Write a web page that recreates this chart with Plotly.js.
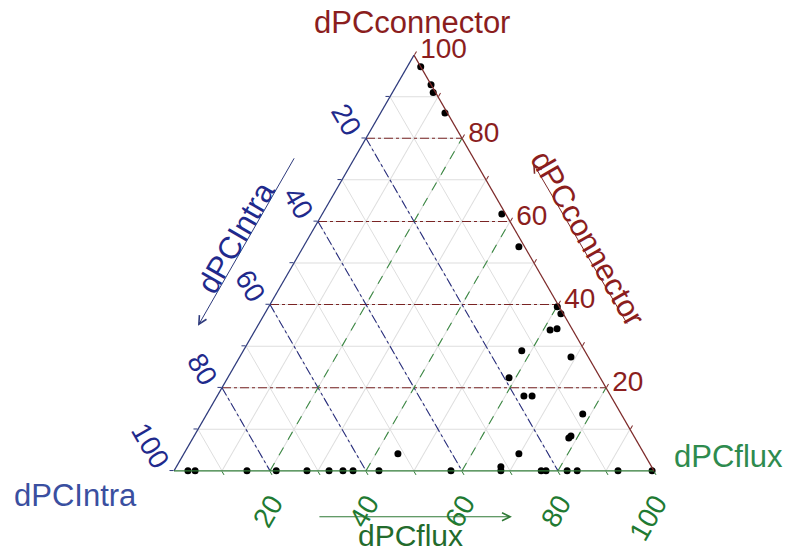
<!DOCTYPE html>
<html><head><meta charset="utf-8">
<script src="https://cdn.plot.ly/plotly-3.0.1.min.js"></script>
<style>html,body{margin:0;padding:0;background:#fff}#chart{width:804px;height:554px}</style>
</head><body><div id="chart"></div>
<script>
// Ternary data: a = dPCconnector, b = dPCIntra, c = dPCflux (percent)
const connector = [97.2, 92.9, 91.0, 86.1, 61.8, 53.9, 39.5, 37.8, 33.9, 34.2, 28.9, 27.4, 22.4, 18.0, 18.0, 13.7, 7.9, 8.4, 4.1, 4.1, 1.0,
  0, 0, 0, 0, 0, 0, 0, 0, 0, 0, 0, 0, 0, 0, 0, 0, 0];
const intra = [0, 0, 0.5, 0.5, 0.8, 1.2, 0.4, 0.5, 4.7, 3.1, 13.1, 3.6, 19.0, 18.1, 16.4, 8.0, 13.8, 13.1, 26.1, 51.3, 31.4,
  97.1, 95.6, 84.8, 78.7, 72.3, 67.7, 64.8, 62.7, 57.3, 42.3, 31.9, 23.5, 22.5, 18.1, 16.0, 7.5, 0.4];
const flux = [2.8, 7.1, 8.5, 13.4, 37.4, 44.9, 60.1, 61.7, 61.4, 62.7, 58.0, 69.0, 58.6, 63.9, 65.6, 78.3, 78.3, 78.5, 69.8, 44.6, 67.6,
  2.9, 4.4, 15.2, 21.3, 27.7, 32.3, 35.2, 37.3, 42.7, 57.7, 68.1, 76.5, 77.5, 81.9, 84.0, 92.5, 99.6];

const axisNames = ['dPCconnector', 'dPCIntra', 'dPCflux'];
const tickVals = [0, 10, 20, 30, 40, 50, 60, 70, 80, 90];
const majorVals = [20, 40, 60, 80];
// labels shown on each edge are the complementary value (clockwise ternary convention)
const tickText = tickVals.map(v => (v % 20 === 0 ? String(100 - v) : ''));

const RED = '#8b1e1e', BLUE = '#1f2a8c', GREEN = '#1f7a32';
const RED_L = '#7d2a2a', BLUE_L = '#2e3a7c', GREEN_L = '#2f7a36';

function gridTrace(kind, color) {
  const a = [], b = [], c = [];
  majorVals.forEach(v => {
    if (kind === 'a') { a.push(v, v, null); b.push(100 - v, 0, null); c.push(0, 100 - v, null); }
    if (kind === 'b') { a.push(100 - v, 0, null); b.push(v, v, null); c.push(0, 100 - v, null); }
    if (kind === 'c') { a.push(0, 100 - v, null); b.push(100 - v, 0, null); c.push(v, v, null); }
  });
  return {type: 'scatterternary', mode: 'lines', a, b, c, hoverinfo: 'skip',
    line: {color, width: 1.1, dash: kind === 'c' ? 'dash' : 'dashdot'}, connectgaps: false};
}

const traces = [
  gridTrace('a', '#7a2424'),
  gridTrace('b', '#2a2f7e'),
  gridTrace('c', '#3c8a44'),
  {type: 'scatterternary', mode: 'markers', a: connector, b: intra, c: flux, cliponaxis: false,
   marker: {color: '#000', size: 7}, hoverinfo: 'a+b+c'}
];

const axBase = {tickmode: 'array', tickvals: tickVals, ticktext: tickText, ticks: 'outside', ticklen: 4,
  showgrid: true, gridcolor: '#dedede', gridwidth: 1, linewidth: 1.2, min: 0};

function note(x, y, text, color, angle, size) {
  return {xref: 'paper', yref: 'paper', x, y, text, showarrow: false, textangle: angle || 0,
    xanchor: 'center', yanchor: 'middle', font: {size: size || 31, color}};
}
function arrow(x, y, ax, ay, color) {
  return {xref: 'paper', yref: 'paper', x, y, ax, ay, text: '', showarrow: true,
    arrowhead: 5, arrowsize: 1.6, arrowwidth: 1, arrowcolor: color};
}

const layout = {
  width: 804, height: 554,
  margin: {l: 174, r: 150, t: 55, b: 83},
  paper_bgcolor: '#fff',
  font: {family: 'Liberation Sans, Arial, sans-serif'},
  showlegend: false,
  ternary: {
    sum: 100, bgcolor: '#fff',
    aaxis: Object.assign({}, axBase, {title: {text: ''},
      tickfont: {size: 28, color: BLUE}, tickangle: 60, tickcolor: BLUE_L, linecolor: BLUE_L}),
    baxis: Object.assign({}, axBase, {title: {text: ''},
      tickfont: {size: 28, color: GREEN}, tickangle: -60, tickcolor: GREEN_L, linecolor: GREEN_L}),
    caxis: Object.assign({}, axBase, {title: {text: ''},
      tickfont: {size: 28, color: RED}, tickangle: 0, tickcolor: RED_L, linecolor: RED_L})
  },
  annotations: [
    note(0.496, 1.079, axisNames[0], RED),
    note(-0.206, -0.058, axisNames[1], '#3a4fa0'),
    note(1.156, 0.036, axisNames[2], '#2e8b4e'),
    arrow(0.748, 0.740, 95, 162, RED_L),
    arrow(0.05, 0.349, 97, -169, BLUE_L),
    arrow(0.704, -0.110, -194, 0, GREEN_L),
    note(0.8625, 0.560, axisNames[0], RED, 60),
    note(0.129, 0.5625, axisNames[1], BLUE, -60),
    note(0.492, -0.154, axisNames[2], '#236b2c', 0, 30)
  ]
};

Plotly.newPlot('chart', traces, layout, {displayModeBar: false, staticPlot: true});
</script>
</body></html>
